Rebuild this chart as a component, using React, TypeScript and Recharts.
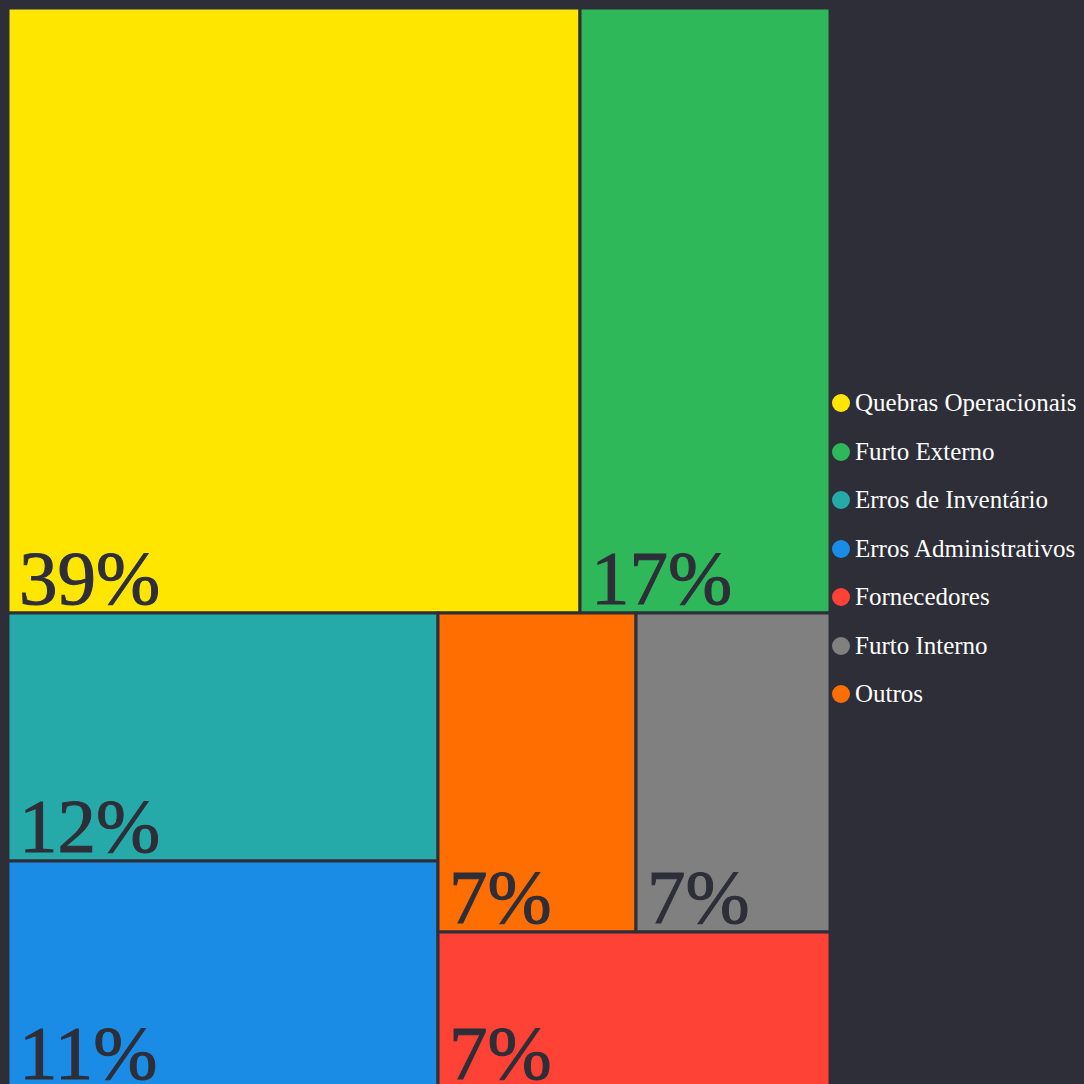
import { Treemap } from "recharts";

const categories = [
    "Quebras Operacionais",
    "Furto Externo",
    "Erros de Inventário",
    "Erros Administrativos",
    "Fornecedores",
    "Furto Interno",
    "Outros",
];
const values = [39, 17, 12, 11, 6.9, 7.0, 7.1];
const colors = ["#FFE600", "#2EB85A", "#26AAA9", "#1A8CE6", "#FF4136", "#808080", "#FF6E00"];

const BG = "#2e2e38";
const total = values.reduce((a, b) => a + b, 0);

const treeData = categories
    .map((name, i) => ({ name, value: values[i] }))
    .sort((a, b) => b.value - a.value);

if (typeof document !== "undefined") {
    document.body.style.background = BG;
    document.body.style.overflow = "hidden";
    document.documentElement.style.overflow = "hidden";
}

const Cell = (props: any) => {
    const { x, y, width, height, depth, name, value } = props;
    if (depth !== 1) return <g />;
    const color = colors[categories.indexOf(name)];
    const pct = Math.round((value / total) * 100);
    return (
        <g>
            <rect x={x} y={y} width={width} height={height} fill={color} stroke={BG} strokeWidth={3} />
            <text
                x={x + 11}
                y={y + height - 9}
                fill={BG}
                fontFamily="'Liberation Serif', 'Times New Roman', serif"
                fontSize={77}
            >
                {pct}%
            </text>
        </g>
    );
};

export default function App() {
    return (
        <div style={{ display: "flex", width: 1068, height: 1080, background: BG }}>
            <Treemap
                width={822}
                height={1080}
                data={treeData}
                dataKey="value"
                nameKey="name"
                aspectRatio={(1 + Math.sqrt(5)) / 2}
                stroke={BG}
                content={<Cell />}
                isAnimationActive={false}
            />
            <div
                style={{
                    display: "flex",
                    flexDirection: "column",
                    justifyContent: "center",
                    gap: 19.5,
                    paddingLeft: 2,
                    paddingTop: 1,
                }}
            >
                {categories.map((c, i) => (
                    <div key={c} style={{ display: "flex", alignItems: "center", height: 29 }}>
                        <span
                            style={{
                                width: 18,
                                height: 18,
                                borderRadius: "50%",
                                background: colors[i],
                                marginRight: 5,
                                flexShrink: 0,
                            }}
                        />
                        <span
                            style={{
                                color: "#ffffff",
                                fontFamily: "'Liberation Serif', 'Times New Roman', serif",
                                fontSize: 25,
                                whiteSpace: "nowrap",
                            }}
                        >
                            {c}
                        </span>
                    </div>
                ))}
            </div>
        </div>
    );
}
